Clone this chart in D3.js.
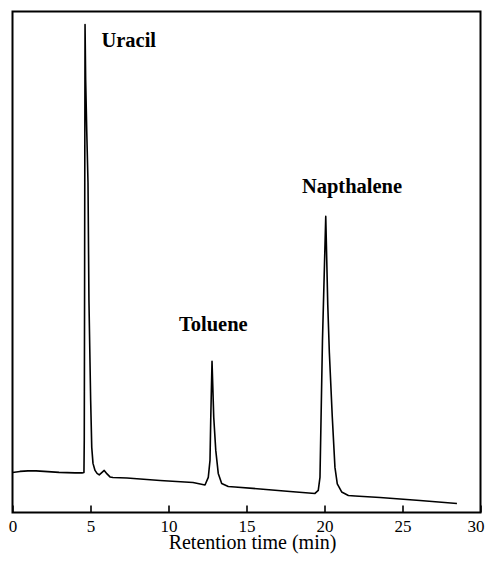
<!DOCTYPE html>
<html>
<head>
<meta charset="utf-8">
<script src="https://cdn.jsdelivr.net/npm/d3@7/dist/d3.min.js"></script>
<style>
  html, body { margin: 0; padding: 0; background: #fff; }
  svg { display: block; }
  svg text { font-family: "Liberation Serif", "DejaVu Serif", serif; fill: #000; }
</style>
</head>
<body>
<div id="chart"></div>
<script>
// Retention time (min)
const times = [0.00, 0.48, 0.99, 1.51, 2.02, 2.98, 4.01, 4.46, 4.58, 4.60, 4.62, 4.65, 4.69, 4.76, 4.84, 4.90, 5.01, 5.08, 5.16, 5.29, 5.42, 5.56, 5.74, 5.88, 6.06, 6.25, 6.44, 7.34, 9.46, 11.57, 12.34, 12.55, 12.66, 12.71, 12.79, 12.90, 13.03, 13.19, 13.41, 13.83, 14.26, 15.87, 17.79, 19.39, 19.60, 19.71, 19.78, 19.87, 20.08, 20.21, 20.31, 20.50, 20.67, 20.82, 21.10, 21.53, 21.96, 23.56, 26.12, 28.49];
// Detector signal (arbitrary units)
const signal = [8.0, 8.2, 8.3, 8.3, 8.2, 8.0, 7.9, 7.9, 8.0, 14.4, 42.4, 97.4, 86.4, 76.0, 65.8, 42.4, 22.4, 13.0, 9.8, 8.4, 7.8, 7.5, 8.0, 8.4, 7.7, 7.1, 7.0, 6.9, 6.4, 6.0, 5.5, 7.0, 10.4, 19.0, 30.2, 19.0, 12.4, 7.8, 5.8, 5.2, 5.1, 4.7, 4.2, 3.8, 4.4, 7.0, 19.0, 34.4, 59.1, 41.4, 32.0, 19.0, 9.0, 5.7, 4.1, 3.4, 3.3, 3.0, 2.4, 1.8];

const peakNames = ["Uracil", "Toluene", "Napthalene"];
const peakLabelTimes = [5.7, 10.67, 18.55];
const peakLabelValues = [92.9, 36.2, 63.8];

const xTicks = [0, 5, 10, 15, 20, 25, 30];
const xTitle = "Retention time (min)";

const W = 487, H = 566;
const mLeft = 12.5, mRight = 480.5, mTop = 11.5, mBottom = 512.5;

const svg = d3.select("#chart").append("svg")
  .attr("width", W).attr("height", H);

const x = d3.scaleLinear().domain([0, 30]).range([mLeft, mRight]);
const y = d3.scaleLinear().domain([0, 100]).range([mBottom, mTop]);

const data = times.map((t, i) => ({ t, v: signal[i] }));

// trace
svg.append("path")
  .datum(data)
  .attr("fill", "none")
  .attr("stroke", "#000")
  .attr("stroke-width", 1.6)
  .attr("stroke-linejoin", "round")
  .attr("d", d3.line().x(d => x(d.t)).y(d => y(d.v)));

// x axis with inward ticks
const ax = svg.append("g")
  .attr("transform", `translate(0,${mBottom})`)
  .call(d3.axisBottom(x).tickValues(xTicks).tickFormat(d3.format("d"))
    .tickSizeInner(-7).tickSizeOuter(0).tickPadding(7.5));
ax.attr("font-family", null).attr("font-size", null);
ax.select(".domain").remove();
ax.selectAll(".tick line").attr("stroke", "#000").attr("stroke-width", 1.6);
ax.selectAll(".tick text")
  .style("font-family", "'Liberation Serif', 'DejaVu Serif', serif")
  .style("font-size", "17px")
  .attr("dx", d => d === 30 ? "-5" : null)
  .attr("fill", "#000");

// frame
svg.append("rect")
  .attr("x", mLeft).attr("y", mTop)
  .attr("width", mRight - mLeft).attr("height", mBottom - mTop)
  .attr("fill", "none").attr("stroke", "#000").attr("stroke-width", 2);

// axis title
svg.append("text")
  .attr("x", 252.5)
  .attr("y", 548.5)
  .attr("text-anchor", "middle")
  .style("font-size", "20px")
  .text(xTitle);

// peak labels
svg.selectAll("text.peak")
  .data(peakNames)
  .enter().append("text")
  .attr("class", "peak")
  .attr("x", (d, i) => x(peakLabelTimes[i]))
  .attr("y", (d, i) => y(peakLabelValues[i]))
  .style("font-weight", "bold")
  .style("font-size", "20.5px")
  .text(d => d);
</script>
</body>
</html>
